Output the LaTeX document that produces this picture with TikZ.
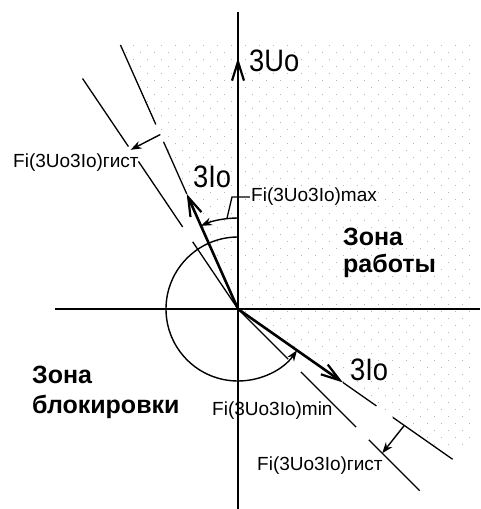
\documentclass[tikz,border=0pt]{standalone}
\usepackage{fontspec}
\setmainfont{Liberation Sans}
\newfontfamily\narrowsans[FakeStretch=0.88]{Liberation Sans}
\usepackage{tikz}
\usetikzlibrary{arrows.meta}
\definecolor{diagink}{HTML}{000000}
\definecolor{gridgray}{HTML}{B4B4B4}

\begin{document}
\begin{tikzpicture}[x=1pt, y=1pt, >=Stealth,
  thinline/.style={line width=1.3pt, color=diagink},
  axisline/.style={line width=2.2pt, color=diagink},
  vecline/.style={line width=2.6pt, color=diagink, -{Straight Barb[length=19pt,width=12pt,line width=2.2pt]}},
  dimarrow/.style={line width=1.4pt, color=diagink, -{Stealth[length=11pt,width=8pt]}},
  smalllbl/.style={font=\fontsize{19}{22}\selectfont, anchor=base west, inner sep=0pt},
  biglbl/.style={font=\narrowsans\fontsize{31}{34}\selectfont, anchor=base west, inner sep=0pt},
  zonelbl/.style={font=\bfseries\fontsize{25}{28}\selectfont, anchor=base west, inner sep=0pt}]
  \useasboundingbox (-238,-200) rectangle (242,309);

  % Dotted background of the working zone
  \begin{scope}
    \clip (0,0) -- (114:289) -- (232,264) -- (232,-136) -- (-35:237) -- cycle;
    \foreach \r in {0,...,57} {
      \pgfmathsetmacro\off{mod(\r,2)*7}
      \foreach \c in {0,...,26}
        \fill[gridgray] (\c*14-126+\off, \r*7-136) rectangle ++(1,1);
    }
  \end{scope}

  % Axes
  \coordinate (O) at (0,0);
  \coordinate (xl) at (-183,0);
  \coordinate (xr) at (242,0);
  \coordinate (yt) at (0,297);
  \coordinate (yb) at (0,-200);
  \draw[axisline] (xl) -- (xr);
  \draw[axisline] (yb) -- (yt);

  % Vectors
  \coordinate (U) at (0,251);
  \coordinate (Iup) at (114:126);
  \coordinate (Ilo) at (-35:128);
  \draw[vecline] (O) -- (U);
  \draw[vecline] (O) -- (Iup);
  \draw[vecline] (O) -- (Ilo);

  % Extensions of 3Io and zone boundaries
  \draw[thinline] (Iup) -- (114:183);
  \draw[thinline] (114:202) -- (114:289);
  \draw[thinline] (O) -- (124:81);
  \draw[thinline] (124:99) -- (124:178);
  \draw[thinline] (124:196) -- (124:278);
  \draw[thinline] (Ilo) -- (-35:169);
  \draw[thinline] (-35:189) -- (-35:262);
  \draw[thinline] (O) -- (-45:71);
  \draw[thinline] (-45:89) -- (-45:167);
  \draw[thinline] (-45:185) -- (-45:257);

  % Hysteresis arrows
  \coordinate (hu1) at (114:191);
  \coordinate (hu2) at (124:192);
  \coordinate (hl1) at (-35:203);
  \coordinate (hl2) at (-45:204);
  \draw[dimarrow] (hu1) -- (hu2);
  \draw[dimarrow] (hl1) -- (hl2);

  % Angle arcs
  \draw[dimarrow] (90:91) arc[start angle=90, end angle=114, radius=91];
  \draw[dimarrow] (90:72) arc[start angle=90, end angle=325, radius=72];
  \coordinate (mx1) at (97:91);
  \coordinate (mx2) at (-6,112);
  \coordinate (mx3) at (12,112);
  \draw[thinline] (mx1) -- (mx2) -- (mx3);

  % Labels
  \node[biglbl] (lblU) at (11,237) {3Uo};
  \node[biglbl] (lblIup) at (-45,122) {3Io};
  \node[biglbl] (lblIlo) at (112,-71) {3Io};
  \node[smalllbl] (lblHup) at (-225,142) {Fi(3Uo3Io)гист};
  \node[smalllbl, anchor=west] (lblMax) at (13,112) {Fi(3Uo3Io)max};
  \node[smalllbl] (lblMin) at (-26,-106) {Fi(3Uo3Io)min};
  \node[smalllbl] (lblHlo) at (19,-161) {Fi(3Uo3Io)гист};
  \node[zonelbl] (zw1) at (105,64) {Зона};
  \node[zonelbl] (zw2) at (105,37) {работы};
  \node[zonelbl] (zb1) at (-206,-74) {Зона};
  \node[zonelbl] (zb2) at (-206,-104) {блокировки};
\end{tikzpicture}
\end{document}
